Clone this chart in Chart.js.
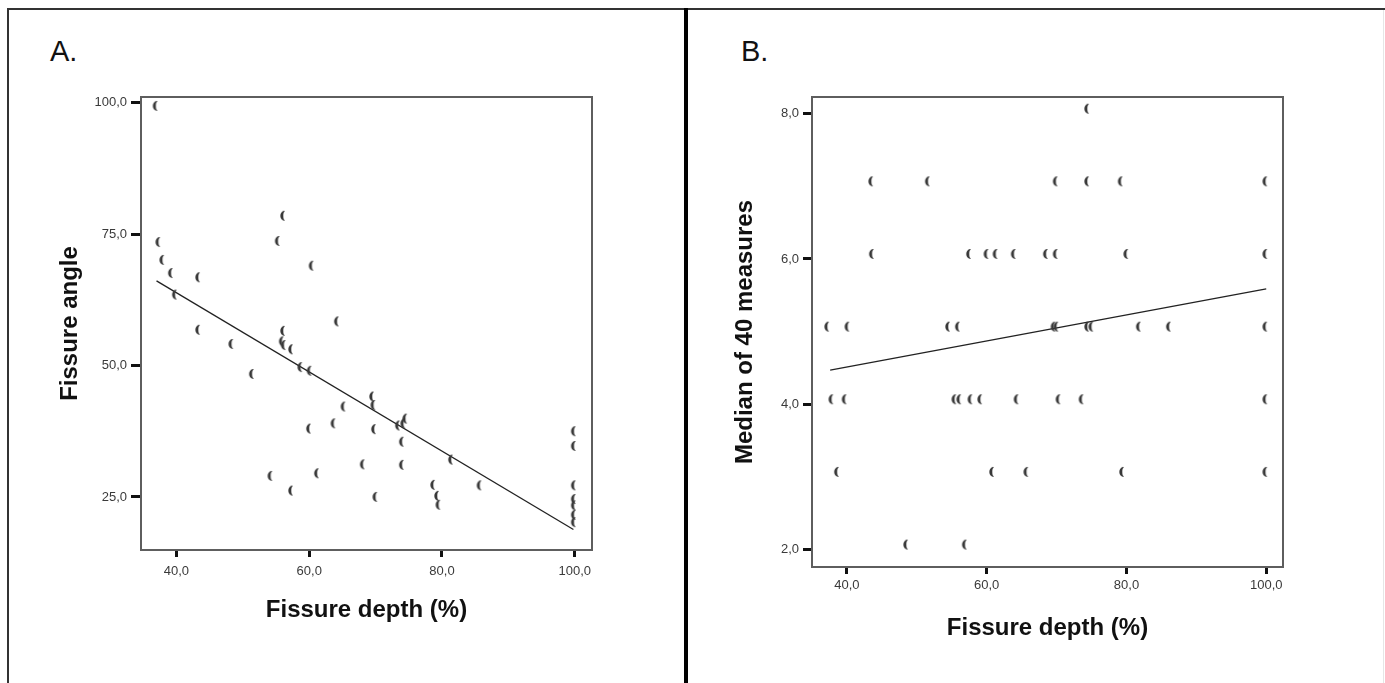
<!DOCTYPE html>
<html>
<head>
<meta charset="utf-8">
<script src="https://cdn.jsdelivr.net/npm/chart.js@4/dist/chart.umd.min.js"></script>
<style>
  html, body { margin:0; padding:0; background:#fff; }
  body { width:1385px; height:683px; position:relative; overflow:hidden; font-family:"Liberation Sans", Arial, sans-serif; }
  .line { position:absolute; }
  .lbl { position:absolute; font-size:29px; line-height:29px; color:#111; font-family:"Liberation Sans", Arial, sans-serif; }
  canvas { position:absolute; top:0; }
</style>
</head>
<body>
<div class="line" style="left:7px;top:8px;width:1378px;height:2px;background:#333;"></div>
<div class="line" style="left:7px;top:8px;width:2px;height:675px;background:#333;"></div>
<div class="line" style="left:684px;top:8px;width:4px;height:675px;background:#000;"></div>
<div class="line" style="left:1383px;top:10px;width:1px;height:673px;background:#e6e6e6;"></div>
<div class="lbl" style="left:50px;top:37px;">A.</div>
<div class="lbl" style="left:741px;top:37px;">B.</div>
<canvas id="chartA" width="684" height="683" style="left:0px;"></canvas>
<canvas id="chartB" width="697" height="683" style="left:688px;"></canvas>
<script>
// ---- Panel A data: fissure depth (%) vs fissure angle ----
const depthA = [37.0, 37.4, 38.0, 39.3, 39.9, 43.4, 43.4, 48.4, 51.5, 54.3,
                55.4, 56.2, 56.2, 56.0, 56.3, 57.4, 57.4, 58.8, 60.2, 60.1,
                60.5, 61.3, 64.3, 63.8, 65.3, 68.2, 69.6, 69.8, 69.9, 70.1,
                73.5, 74.6, 74.3, 74.1, 74.1, 78.8, 79.4, 79.6, 81.5, 85.8,
                100, 100, 100, 100, 100, 100, 100];
const angleA = [99.4, 73.5, 70.1, 67.6, 63.5, 66.8, 56.8, 54.1, 48.4, 29.0,
                73.7, 78.5, 56.6, 54.6, 53.9, 53.1, 26.2, 49.7, 49.0, 38.0,
                69.0, 29.5, 58.4, 39.0, 42.2, 31.2, 44.1, 42.5, 37.9, 25.0,
                38.6, 39.9, 39.0, 35.5, 31.1, 27.3, 25.2, 23.5, 32.1, 27.2,
                37.5, 34.7, 27.2, 24.6, 23.4, 21.6, 20.2];
const fitDepthA = [37.0, 99.8];
const fitAngleA = [66.1, 18.8];
const xTicksA = [40, 60, 80, 100];
const yTicksA = [25, 50, 75, 100];

// ---- Panel B data: fissure depth (%) vs median of 40 measures ----
const depthB = [74.5,
                43.6, 51.7, 70.0, 74.5, 79.3, 100,
                43.7, 57.6, 60.1, 61.4, 64.0, 68.6, 70.0, 80.1, 100,
                37.3, 40.2, 54.6, 56.0, 69.7, 70.1, 74.5, 75.1, 81.9, 86.2, 100,
                37.9, 39.8, 55.5, 56.2, 57.8, 59.2, 64.4, 70.4, 73.7, 100,
                38.7, 60.9, 65.8, 79.5, 100,
                48.6, 57.0];
const medianB = [8,
                 7, 7, 7, 7, 7, 7,
                 6, 6, 6, 6, 6, 6, 6, 6, 6,
                 5, 5, 5, 5, 5, 5, 5, 5, 5, 5, 5,
                 4, 4, 4, 4, 4, 4, 4, 4, 4, 4,
                 3, 3, 3, 3, 3,
                 2, 2];
const fitDepthB = [37.6, 100];
const fitMedianB = [4.47, 5.59];
const xTicksB = [40, 60, 80, 100];
const yTicksB = [2, 4, 6, 8];

// ---- marker glyph: a small "(" shaped crescent ----
function makeGlyph(dy) {
  const c = document.createElement('canvas');
  c.width = 14; c.height = 24;
  const g = c.getContext('2d');
  const cx = 6, cy = 12 + dy;
  g.fillStyle = '#383838';
  g.beginPath();
  g.ellipse(cx + 1.6, cy, 4.3, 5.0, 0, Math.PI * 0.5, Math.PI * 1.5, false);
  g.ellipse(cx + 1.6, cy, 1.3, 4.1, 0, Math.PI * 1.5, Math.PI * 0.5, true);
  g.closePath();
  g.fill();
  return c;
}
const glyphA = makeGlyph(0);
const glyphB = makeGlyph(-5);

const fmt = v => Number(v).toFixed(1).replace('.', ',');
const FONT = '"Liberation Sans", Arial, sans-serif';

const framePlugin = {
  id: 'frame',
  afterDatasetsDraw(chart) {
    const {ctx, chartArea: a} = chart;
    ctx.save();
    ctx.strokeStyle = '#5e5e5e';
    ctx.lineWidth = 2;
    ctx.strokeRect(a.left, a.top, a.right - a.left, a.bottom - a.top);
    ctx.restore();
  }
};

function build(id, cfg) {
  const pts = cfg.xs.map((x, i) => ({x, y: cfg.ys[i]}));
  const fit = cfg.fx.map((x, i) => ({x, y: cfg.fy[i]}));
  return new Chart(document.getElementById(id), {
    type: 'scatter',
    data: {
      datasets: [
        { data: pts, pointStyle: cfg.glyph, pointRadius: 5, pointHoverRadius: 5 },
        { data: fit, showLine: true, borderColor: '#222', borderWidth: 1.3, pointRadius: 0, fill: false }
      ]
    },
    options: {
      responsive: false,
      devicePixelRatio: 1,
      animation: false,
      events: [],
      layout: { padding: { left: 0, top: 97, right: cfg.padRight, bottom: 0 } },
      plugins: { legend: { display: false }, tooltip: { enabled: false } },
      scales: {
        x: {
          type: 'linear', min: cfg.xmin, max: cfg.xmax,
          afterBuildTicks: s => { s.ticks = cfg.xt.map(v => ({value: v})); },
          afterFit: s => { s.height = cfg.xh; },
          grid: { drawOnChartArea: false, drawTicks: true, tickLength: 7, tickWidth: 3, tickColor: '#111' },
          border: { display: false },
          ticks: { padding: cfg.xpad, color: '#3a3a3a', font: { family: FONT, size: 13 }, callback: fmt, maxRotation: 0 },
          title: { display: true, text: 'Fissure depth (%)', color: '#111',
                   font: { family: FONT, size: 24, weight: 'bold' }, padding: { top: 0, bottom: cfg.xtpad } }
        },
        y: {
          type: 'linear', min: cfg.ymin, max: cfg.ymax,
          afterBuildTicks: s => { s.ticks = cfg.yt.map(v => ({value: v})); },
          afterFit: s => { s.width = cfg.yw; },
          grid: { drawOnChartArea: false, drawTicks: true, tickLength: cfg.ytl, tickWidth: 3, tickColor: '#111' },
          border: { display: false },
          ticks: { padding: 4, color: '#3a3a3a', font: { family: FONT, size: 13 }, callback: fmt },
          title: { display: true, text: cfg.ytitle, color: '#111',
                   font: { family: FONT, size: 24, weight: 'bold' }, padding: { top: cfg.ytpad, bottom: 0 } }
        }
      }
    },
    plugins: [framePlugin]
  });
}

build('chartA', {
  xs: depthA, ys: angleA, fx: fitDepthA, fy: fitAngleA, glyph: glyphA,
  xmin: 34.66, xmax: 102.6, ymin: 14.9, ymax: 101.1,
  xt: xTicksA, yt: yTicksA,
  padRight: 92, xh: 133, yw: 141, xpad: 7, xtpad: 58.6, ytl: 10, ytpad: 55.6,
  ytitle: 'Fissure angle'
});

build('chartB', {
  xs: depthB, ys: medianB, fx: fitDepthB, fy: fitMedianB, glyph: glyphB,
  xmin: 35.0, xmax: 102.4, ymin: 1.76, ymax: 8.23,
  xt: xTicksB, yt: yTicksB,
  padRight: 102, xh: 116, yw: 124, xpad: 4, xtpad: 40.6, ytl: 9, ytpad: 42.6,
  ytitle: 'Median of 40 measures'
});
</script>
</body>
</html>
